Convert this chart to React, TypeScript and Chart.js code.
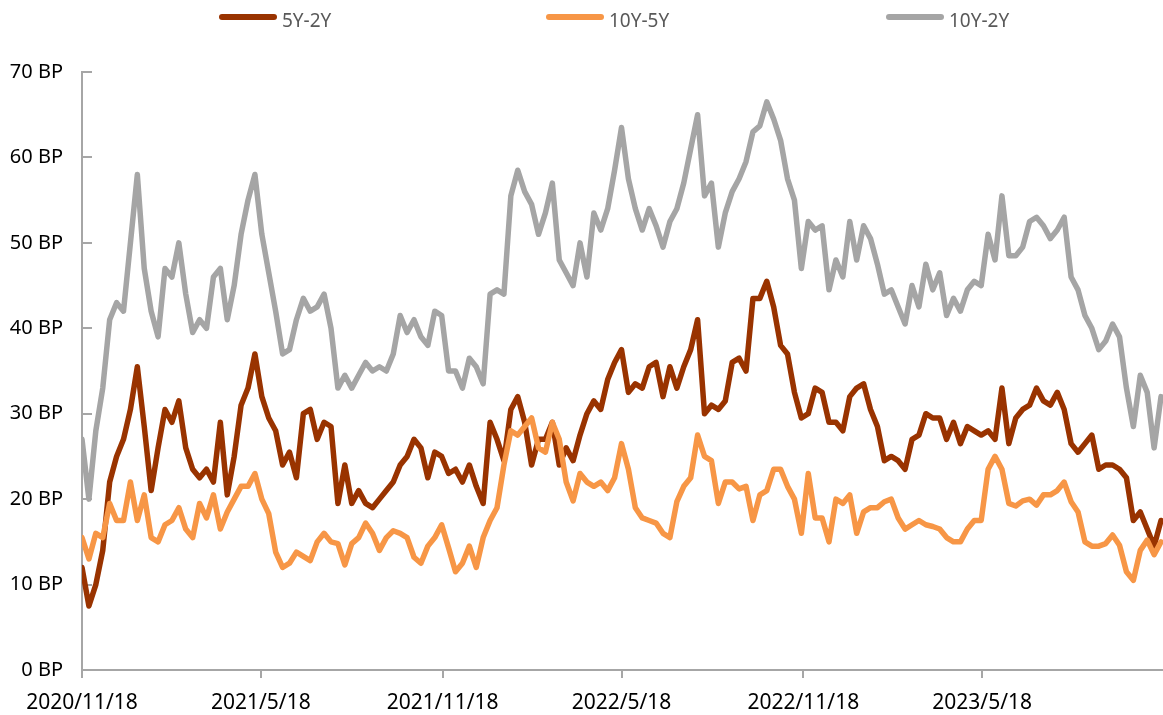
import React, { useEffect, useRef } from "react";
import { Chart, registerables } from "chart.js";

Chart.register(...registerables);

// ---- data -------------------------------------------------------------
const startDate = "2020/11/18";
const stepDays = 7; // one sample per week
const lastDay = 1094;

const tickLabels = ["2020/11/18", "2021/5/18", "2021/11/18", "2022/5/18", "2022/11/18", "2023/5/18"];
const seriesNames = ["5Y-2Y", "10Y-5Y", "10Y-2Y"];

const spread5y2y = [
  12, 7.5, 10, 14, 22, 25, 27, 30.5, 35.5, 28.5, 21, 26, 30.5, 29, 31.5, 26, 23.5, 22.5, 23.5, 22, 29, 20.5, 25, 31, 33, 37, 32,
  29.5, 28, 24, 25.5, 22.5, 30, 30.5, 27, 29, 28.5, 19.5, 24, 19.5, 21, 19.5, 19, 20, 21, 22, 24, 25, 27, 26, 22.5, 25.5, 25, 23,
  23.5, 22, 24, 21.5, 19.5, 29, 27, 24.5, 30.5, 32, 29, 24, 27, 27, 29, 24, 26, 24.5, 27.5, 30, 31.5, 30.5, 34, 36, 37.5, 32.5,
  33.5, 33, 35.5, 36, 32, 35.5, 33, 35.5, 37.5, 41, 30, 31, 30.5, 31.5, 36, 36.5, 35, 43.5, 43.5, 45.5, 42.5, 38, 37, 32.5, 29.5, 30,
  33, 32.5, 29, 29, 28, 32, 33, 33.5, 30.5, 28.5, 24.5, 25, 24.5, 23.5, 27, 27.5, 30, 29.5, 29.5, 27, 29, 26.5, 28.5, 28, 27.5, 28,
  27, 33, 26.5, 29.5, 30.5, 31, 33, 31.5, 31, 32.5, 30.5, 26.5, 25.5, 26.5, 27.5, 23.5, 24, 24, 23.5, 22.5, 17.5, 18.5, 16.5, 14.5, 17.5,
];

const spread10y5y = [
  15.5, 13, 16, 15.5, 19.5, 17.5, 17.5, 22, 17.5, 20.5, 15.5, 15, 17, 17.5, 19, 16.5, 15.5, 19.5, 17.8, 20.5, 16.5, 18.5, 20, 21.5, 21.5, 23, 20,
  18.3, 13.8, 12, 12.5, 13.8, 13.3, 12.8, 15, 16, 15, 14.8, 12.3, 14.8, 15.5, 17.2, 16, 14, 15.5, 16.3, 16, 15.5, 13.2, 12.5, 14.5, 15.5, 17, 14.3,
  11.5, 12.5, 14.5, 12, 15.5, 17.5, 19, 24, 28, 27.5, 28.5, 29.5, 26, 25.5, 29, 27, 22, 19.8, 23, 22, 21.5, 22, 21, 22.5, 26.5, 23.5,
  19, 17.8, 17.5, 17.2, 16, 15.5, 19.7, 21.5, 22.5, 27.5, 25, 24.5, 19.5, 22, 22, 21.2, 21.5, 17.5, 20.5, 21, 23.5, 23.5, 21.5, 20, 16, 23,
  17.8, 17.8, 15, 20, 19.5, 20.5, 16, 18.5, 19, 19, 19.7, 20, 17.8, 16.5, 17, 17.5, 17, 16.8, 16.5, 15.5, 15, 15, 16.5, 17.5, 17.5, 23.5,
  25, 23.5, 19.5, 19.2, 19.8, 20, 19.3, 20.5, 20.5, 21, 22, 19.7, 18.5, 15, 14.5, 14.5, 14.8, 15.8, 14.6, 11.5, 10.5, 14, 15.2, 13.5, 15,
];

const spread10y2y = [
  27, 20, 28, 33, 41, 43, 42, 50, 58, 47, 42, 39, 47, 46, 50, 44, 39.5, 41, 40, 46, 47, 41, 45, 51, 55, 58, 51,
  46.5, 42, 37, 37.5, 41, 43.5, 42, 42.5, 44, 40, 33, 34.5, 33, 34.5, 36, 35, 35.5, 35, 37, 41.5, 39.5, 41, 39, 38, 42, 41.5, 35,
  35, 33, 36.5, 35.5, 33.5, 44, 44.5, 44, 55.5, 58.5, 56, 54.5, 51, 53.5, 57, 48, 46.5, 45, 50, 46, 53.5, 51.5, 54, 58.5, 63.5, 57.5,
  54, 51.5, 54, 52, 49.5, 52.5, 54, 57, 61, 65, 55.5, 57, 49.5, 53.5, 56, 57.5, 59.5, 63, 63.7, 66.5, 64.5, 62, 57.5, 55, 47, 52.5,
  51.5, 52, 44.5, 48, 46, 52.5, 48, 52, 50.5, 47.5, 44, 44.5, 42.5, 40.5, 45, 42.5, 47.5, 44.5, 46.5, 41.5, 43.5, 42, 44.5, 45.5, 45, 51,
  48, 55.5, 48.5, 48.5, 49.5, 52.5, 53, 52, 50.5, 51.5, 53, 46, 44.5, 41.5, 40, 37.5, 38.5, 40.5, 39, 33, 28.5, 34.5, 32.5, 26, 32,
];

const yTickStep = 10;
const yMax = 70;

// ---- styles -----------------------------------------------------------
const COLORS = ["#993300", "#F79646", "#A5A5A5"];
const AXIS_COLOR = "#A6A6A6";
const FONT = "'Noto Sans', 'Open Sans', sans-serif";

function dayOffset(label: string): number {
  const [y, m, d] = label.split("/").map(Number);
  const [y0, m0, d0] = startDate.split("/").map(Number);
  return Math.round((Date.UTC(y, m - 1, d) - Date.UTC(y0, m0 - 1, d0)) / 86400000);
}

const tickDays = tickLabels.map(dayOffset);

function toPoints(values: number[]) {
  return values.map((v, i) => ({ x: i * stepDays, y: v }));
}

const innerYTicks = {
  id: "innerYTicks",
  beforeDatasetsDraw(chart: any) {
    const ys = chart.scales.y;
    const ctx = chart.ctx;
    ctx.save();
    ctx.strokeStyle = AXIS_COLOR;
    ctx.lineWidth = 2;
    ys.ticks.forEach((t: any) => {
      const py = Math.round(ys.getPixelForValue(t.value));
      ctx.beginPath();
      ctx.moveTo(ys.right, py);
      ctx.lineTo(ys.right + 10, py);
      ctx.stroke();
    });
    ctx.restore();
  },
};

const topLegend = {
  id: "topLegend",
  afterDraw(chart: any) {
    const ctx = chart.ctx;
    const starts = [219, 546, 886];
    ctx.save();
    ctx.font = `19px ${FONT}`;
    ctx.textBaseline = "alphabetic";
    ctx.textAlign = "left";
    seriesNames.forEach((name, i) => {
      const x = starts[i];
      ctx.strokeStyle = COLORS[i];
      ctx.lineWidth = 6;
      ctx.lineCap = "round";
      ctx.beginPath();
      ctx.moveTo(x + 3, 17);
      ctx.lineTo(x + 55, 17);
      ctx.stroke();
      ctx.fillStyle = "#595959";
      ctx.fillText(name, x + 63, 27);
    });
    ctx.restore();
  },
};

export default function App() {
  const ref = useRef<HTMLCanvasElement | null>(null);

  useEffect(() => {
    document.body.style.margin = "0";
    if (!ref.current) return;
    const datasets = [spread5y2y, spread10y5y, spread10y2y].map((vals, i) => ({
      label: seriesNames[i],
      data: toPoints(vals),
      borderColor: COLORS[i],
      backgroundColor: COLORS[i],
      borderWidth: 5.5,
      pointRadius: 0,
      tension: 0,
      borderCapStyle: "round" as const,
      borderJoinStyle: "round" as const,
      order: 3 - i,
    }));

    const chart = new Chart(ref.current, {
      type: "line",
      data: { datasets },
      options: {
        animation: false,
        responsive: false,
        devicePixelRatio: 1,
        layout: { padding: { top: 72, left: 0, right: 0, bottom: 0 } },
        plugins: { legend: { display: false }, tooltip: { enabled: false } },
        scales: {
          x: {
            type: "linear",
            min: 0,
            max: lastDay,
            afterBuildTicks: (scale: any) => {
              scale.ticks = tickDays.map((v) => ({ value: v }));
            },
            afterFit: (scale: any) => {
              scale.height = 45;
            },
            ticks: {
              autoSkip: false,
              maxRotation: 0,
              padding: 12,
              color: "#000000",
              font: { family: FONT, size: 21 },
              callback: (v: any) => {
                const idx = tickDays.indexOf(Number(v));
                return idx >= 0 ? tickLabels[idx] : "";
              },
            },
            grid: {
              display: true,
              drawOnChartArea: false,
              drawTicks: true,
              tickLength: 8,
              color: AXIS_COLOR,
              lineWidth: 2,
            },
            border: { display: true, color: AXIS_COLOR, width: 2 },
          },
          y: {
            min: 0,
            max: yMax,
            afterFit: (scale: any) => {
              scale.width = 82;
            },
            ticks: {
              stepSize: yTickStep,
              padding: 19,
              color: "#000000",
              font: { family: FONT, size: 20 },
              callback: (v: any) => `${v} BP`,
            },
            grid: { display: false, drawTicks: false },
            border: { display: true, color: AXIS_COLOR, width: 2 },
          },
        },
      },
      plugins: [innerYTicks, topLegend],
    });
    return () => chart.destroy();
  }, []);

  return (
    <div style={{ width: 1163, height: 715, background: "#ffffff" }}>
      <canvas ref={ref} width={1163} height={715} style={{ display: "block" }} />
    </div>
  );
}
